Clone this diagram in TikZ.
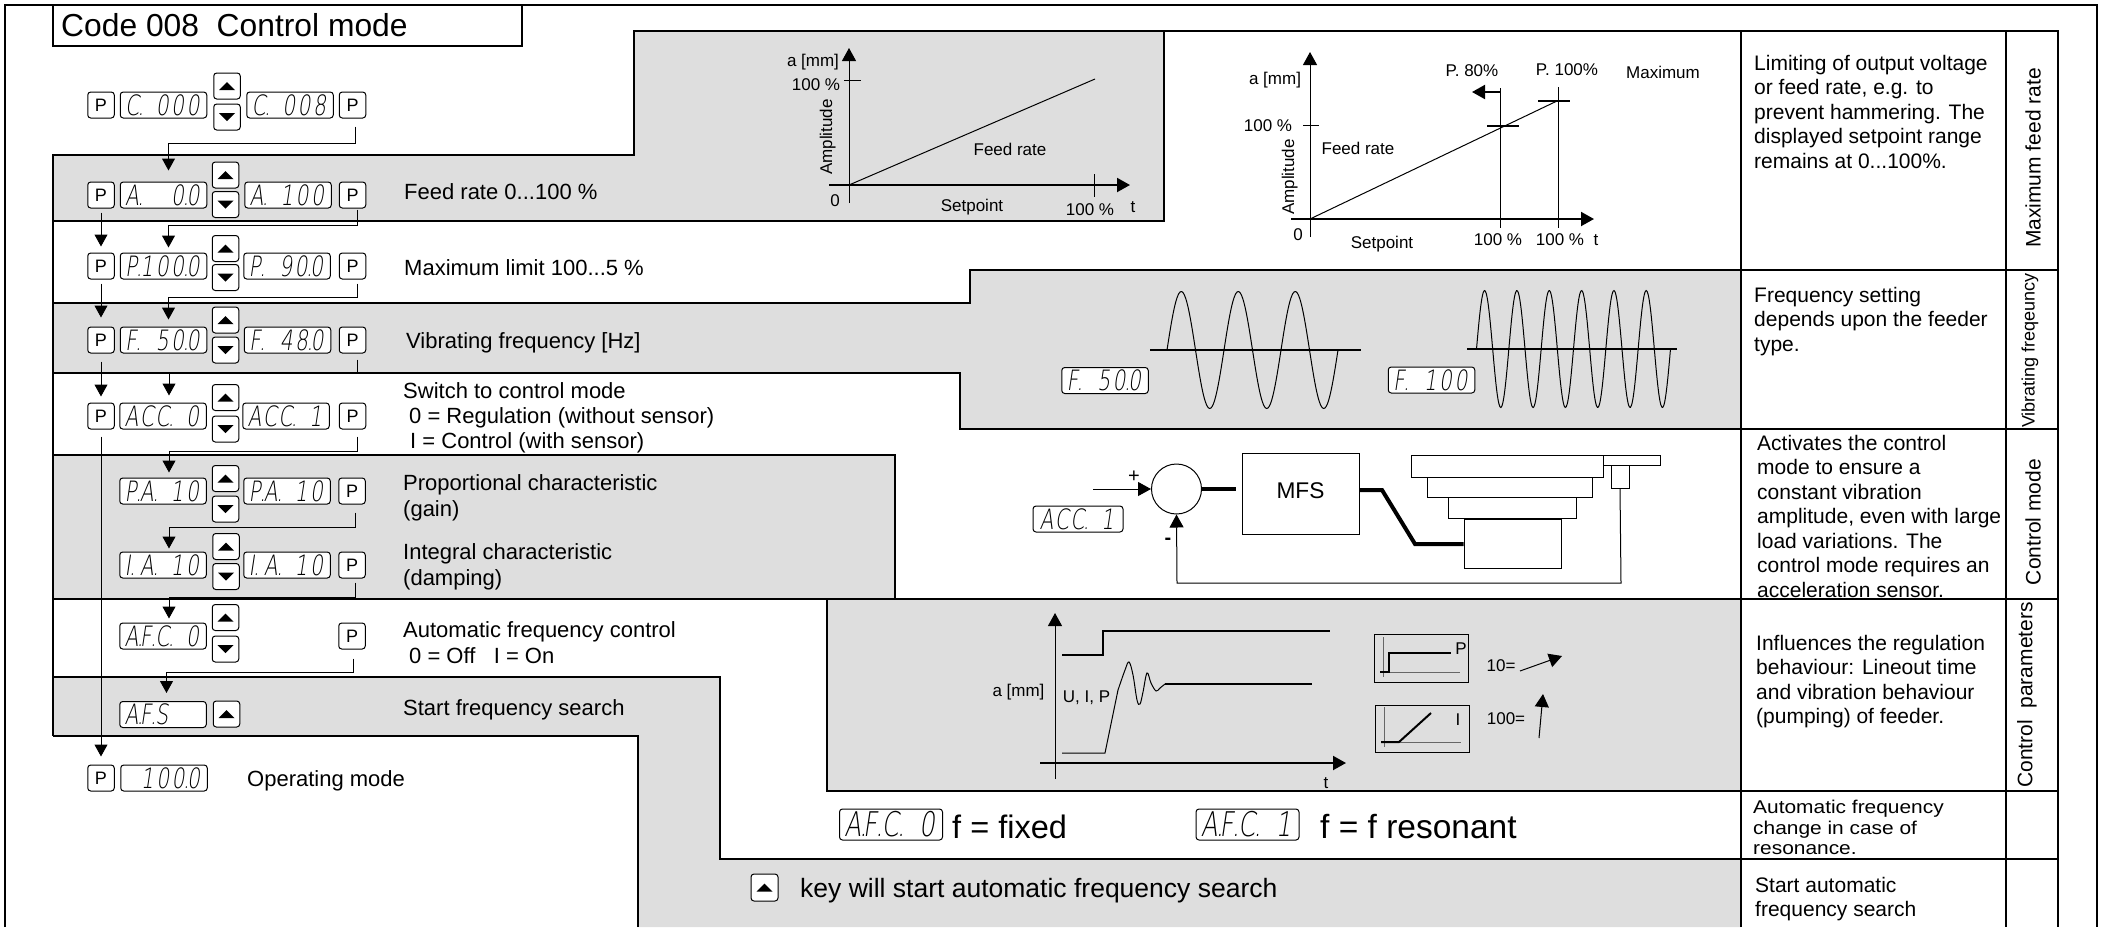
\documentclass[tikz,border=0pt]{standalone}
\usepackage{fontspec}
\setmainfont{Liberation Sans}
\newfontfamily\lcdfont[FakeSlant=0.15,FakeStretch=0.72]{DejaVu Sans ExtraLight}
\newfontfamily\widefont[FakeStretch=1.13]{Liberation Sans}
\usetikzlibrary{arrows.meta}
\newcommand{\fsz}[1]{\fontsize{#1}{#1}\selectfont}
\newcommand{\dt}{\kern-.05em.}
\newcommand{\lcd}[5]{\makebox[.55em][l]{#1}\makebox[.55em][l]{#2}\makebox[.55em][l]{#3}\makebox[.55em][l]{#4}\makebox[.55em][l]{#5}}
\definecolor{bandgray}{gray}{0.87}
\tikzset{
  band/.style={fill=bandgray,draw=black,line width=2pt,line join=miter},
  rule/.style={draw=black,line width=2pt},
  keybox/.style={draw=black,fill=white,rounded corners=3pt,line width=1pt,inner sep=0pt,minimum width=26.5pt,minimum height=26pt},
  pkey/.style={keybox,font=\fsz{18}},
  upkey/.style={keybox,path picture={\fill[black,sharp corners] ([xshift=-8pt,yshift=-4pt]path picture bounding box.center) -- ++(16,0) -- ++(-8,-8) -- cycle;}},
  dwkey/.style={keybox,path picture={\fill[black,sharp corners] ([xshift=-8pt,yshift=4pt]path picture bounding box.center) -- ++(16,0) -- ++(-8,8) -- cycle;}},
  disp/.style={draw=black,fill=white,rounded corners=3pt,line width=1pt,inner sep=0pt,minimum width=86.5pt,minimum height=26pt,font=\lcdfont\fsz{28}},
  bigdisp/.style={disp,minimum width=103pt,minimum height=31pt,font=\lcdfont\fsz{34}},
  conn/.style={-{Triangle[length=12pt,width=13pt]},line width=1pt},
  lbl/.style={anchor=west,inner sep=0pt,font=\fsz{22},text height=15.8pt,text depth=0pt},
  ann/.style={inner sep=0pt,font=\fsz{17},text height=12.2pt,text depth=0pt},
  note/.style={anchor=north west,inner sep=0pt,align=left,font=\fontsize{21}{24.5}\selectfont},
  rot/.style={rotate=90,inner sep=0pt,font=\fsz{21}},
  axis/.style={-{Triangle[length=13pt,width=14pt]},line width=1pt},
  baxis/.style={-{Triangle[length=13pt,width=14pt]},line width=2pt},
  thick line/.style={line width=4pt},
  box/.style={draw=black,fill=white,line width=1pt,inner sep=0pt}
}
\begin{document}
\begin{tikzpicture}[x=1pt,y=-1pt]
\useasboundingbox (0,0) rectangle (2101,927);

\draw[line width=2pt] (5,927) -- (5,5) -- (2097,5) -- (2097,927);

\draw[band] (53,155) -- (634,155) -- (634,31) -- (1164,31) -- (1164,221) -- (53,221) -- cycle;
\draw[band] (53,303) -- (970,303) -- (970,270) -- (1741,270) -- (1741,429) -- (960,429) -- (960,373) -- (53,373) -- cycle;
\draw[band] (53,455) -- (895,455) -- (895,599) -- (53,599) -- cycle;
\draw[band] (827,599) -- (1741,599) -- (1741,791) -- (827,791) -- cycle;
\fill[bandgray] (53,677) -- (720,677) -- (720,859) -- (1741,859) -- (1741,927) -- (638,927) -- (638,736) -- (53,736) -- cycle;
\draw[rule] (53,677) -- (720,677) -- (720,859) -- (1741,859);
\draw[rule] (638,927) -- (638,736) -- (53,736);
\draw[rule] (53,155) -- (53,736);
\draw[rule] (53,221) -- (1164,221);
\draw[rule] (1164,31) -- (2058,31) -- (2058,927);
\draw[rule] (1741,31) -- (1741,927);
\draw[rule] (2006,31) -- (2006,927);
\draw[rule] (1741,270) -- (2058,270);
\draw[rule] (960,429) -- (2058,429);
\draw[rule] (895,599) -- (2058,599);
\draw[rule] (827,791) -- (2058,791);
\draw[rule] (720,859) -- (2058,859);
\draw[rule] (53,373) -- (960,373);
\draw[rule] (53,455) -- (895,455);
\draw[rule] (53,599) -- (895,599);

\node[draw=black,line width=1.5pt,fill=white,minimum width=469pt,minimum height=41pt,inner sep=0pt] (title) at (287.5,25.5) {};
\node[anchor=west,inner sep=0pt,font=\fsz{31.8},text height=22.8pt,text depth=0pt] (titletext) at (61,25) {Code 008~~Control mode};

\node[pkey] (PL0) at (101,105) {P};
\node[disp] (DL0) at (163.5,105) {\lcd{C\dt}{}{0}{0}{0}};
\node[upkey] (UP0) at (227,86) {};
\node[dwkey] (DW0) at (227,117) {};
\node[disp] (DR0) at (290,105) {\lcd{C\dt}{}{0}{0}{8}};
\node[pkey] (PR0) at (352.5,105) {P};

\node[pkey] (PL1) at (101,195) {P};
\node[disp] (DL1) at (163.5,195) {\lcd{A\dt}{}{}{0\dt}{0}};
\node[upkey] (UP1) at (225.5,175) {};
\node[dwkey] (DW1) at (225.5,204.5) {};
\node[disp] (DR1) at (288,195) {\lcd{A\dt}{}{1}{0}{0}};
\node[pkey] (PR1) at (352.5,195) {P};
\node[lbl] (LB1) at (404,192) {Feed rate 0...100 \%};

\node[pkey] (PL2) at (101,266) {P};
\node[disp] (DL2) at (163.5,266) {\lcd{P\dt}{1}{0}{0\dt}{0}};
\node[upkey] (UP2) at (225.5,248.5) {};
\node[dwkey] (DW2) at (225.5,277.5) {};
\node[disp] (DR2) at (287,266) {\lcd{P\dt}{}{9}{0\dt}{0}};
\node[pkey] (PR2) at (352.5,266) {P};
\node[lbl] (LB2) at (404,268) {Maximum limit 100...5 \%};

\node[pkey] (PL3) at (101,340) {P};
\node[disp] (DL3) at (163.5,340) {\lcd{F\dt}{}{5}{0\dt}{0}};
\node[upkey] (UP3) at (225.5,320) {};
\node[dwkey] (DW3) at (225.5,350) {};
\node[disp] (DR3) at (287.5,340) {\lcd{F\dt}{}{4}{8\dt}{0}};
\node[pkey] (PR3) at (352.5,340) {P};
\node[lbl] (LB3) at (406,341) {Vibrating frequency [Hz]};

\node[pkey] (PL4) at (101,416) {P};
\node[disp] (DL4) at (163,416) {\lcd{A}{C}{C\dt}{}{0}};
\node[upkey] (UP4) at (225.5,397.5) {};
\node[dwkey] (DW4) at (225.5,429) {};
\node[disp] (DR4) at (286,416) {\lcd{A}{C}{C\dt}{}{1}};
\node[pkey] (PR4) at (352.5,416) {P};
\node[lbl] (LB4a) at (403,391) {Switch to control mode};
\node[lbl] (LB4b) at (409,416) {0 = Regulation (without sensor)};
\node[lbl] (LB4c) at (410,441) {I = Control (with sensor)};

\node[disp] (DL5) at (163,491) {\lcd{P\dt}{A\dt}{}{1}{0}};
\node[upkey] (UP5) at (225.5,478.5) {};
\node[dwkey] (DW5) at (225.5,509) {};
\node[disp] (DR5) at (287,491) {\lcd{P\dt}{A\dt}{}{1}{0}};
\node[pkey] (PR5) at (352,491) {P};
\node[lbl] (LB5a) at (403,483) {Proportional characteristic};
\node[lbl] (LB5b) at (403,509) {(gain)};

\node[disp] (DL6) at (163,565) {\lcd{I\dt}{A\dt}{}{1}{0}};
\node[upkey] (UP6) at (226,546.5) {};
\node[dwkey] (DW6) at (226,576.5) {};
\node[disp] (DR6) at (287,565) {\lcd{I\dt}{A\dt}{}{1}{0}};
\node[pkey] (PR6) at (352,565) {P};
\node[lbl] (LB6a) at (403,552) {Integral characteristic};
\node[lbl] (LB6b) at (403,578) {(damping)};

\node[disp] (DL7) at (163,636) {\lcd{A\dt}{F\dt}{C\dt}{}{0}};
\node[upkey] (UP7) at (225.5,617.5) {};
\node[dwkey] (DW7) at (225.5,649) {};
\node[pkey] (PR7) at (352,636) {P};
\node[lbl] (LB7a) at (403,630) {Automatic frequency control};
\node[lbl] (LB7b) at (409,656) {0 = Off~~~I = On};

\node[disp] (DL8) at (163,714.5) {\lcd{A\dt}{F\dt}{S}{}{}};
\node[upkey] (UP8) at (226.5,714) {};
\node[lbl] (LB8) at (403,708) {Start frequency search};

\node[pkey] (PL9) at (101,778) {P};
\node[disp] (DL9) at (164,778) {\lcd{}{1}{0}{0\dt}{0}};
\node[lbl] (LB9) at (247,779) {Operating mode};

\draw[conn,shorten <=8pt,shorten >=11pt] ([xshift=3pt]PR0.south) -- ++(0,25) -| ([xshift=5pt]DL1.north);
\draw[conn,shorten <=1pt,shorten >=5pt] ([xshift=4.5pt]PR1.south) -- ++(0,17) -| ([xshift=5pt]DL2.north);
\draw[conn,shorten <=4pt,shorten >=7pt] ([xshift=4.5pt]PR2.south) -- ++(0,18) -| ([xshift=5pt]DL3.north);
\draw[conn,shorten <=6pt,shorten >=7pt] ([xshift=4.5pt]PR3.south) -- ++(0,20) -| ([xshift=6pt]DL4.north);
\draw[conn,shorten <=7pt,shorten >=5pt] ([xshift=4.5pt]PR4.south) -- ++(0,22) -| ([xshift=6pt]DL5.north);
\draw[conn,shorten <=8pt,shorten >=3pt] ([xshift=3pt]PR5.south) -- ++(0,23) -| ([xshift=6pt]DL6.north);
\draw[conn,shorten <=4pt,shorten >=4pt] ([xshift=3pt]PR6.south) -- ++(0,19) -| ([xshift=6pt]DL7.north);
\draw[conn,shorten <=9pt,shorten >=8pt] ([xshift=1pt]PR7.south) -- ++(0,23) -| ([xshift=3.5pt]DL8.north);
\draw[conn,shorten <=4pt,shorten >=6pt] (PL1) -- (PL2);
\draw[conn,shorten <=4pt,shorten >=9pt] (PL2) -- (PL3);
\draw[conn,shorten <=8pt,shorten >=6pt] (PL3) -- (PL4);
\draw[conn,shorten <=7pt,shorten >=8pt] (PL4) -- (PL9);

\draw[axis] (849,203) -- (849,48);
\draw[baxis] (829,185) -- (1130,185);
\draw[line width=1pt] (849,185) -- (1095,79);
\draw[line width=1pt] (844,80) -- (861,80);
\draw[line width=1pt] (1094,174) -- (1094,197);
\node[ann] (a1) at (813,60) {a [mm]};
\node[ann] (h1) at (816,84) {100 \%};
\node[ann] (z1) at (835,200) {0};
\node[ann,rotate=90] (am1) at (826,137) {Amplitude};
\node[ann] (f1) at (1010,149) {Feed rate};
\node[ann] (s1) at (972,205) {Setpoint};
\node[ann] (e1) at (1090,209) {100 \%};
\node[ann] (t1) at (1133,206) {t};

\draw[axis] (1310,237) -- (1310,52);
\draw[baxis] (1291,219) -- (1594,219);
\draw[line width=1pt] (1310,219) -- (1557,101);
\draw[line width=1pt] (1303,125) -- (1319,125);
\draw[line width=1pt] (1500,88) -- (1500,228);
\draw[line width=1pt] (1558,87) -- (1558,228);
\draw[line width=1.5pt] (1487,126) -- (1519,126);
\draw[line width=1.5pt] (1538,101) -- (1570,101);
\draw[baxis] (1500,92) -- (1472,92);
\node[ann] (p80) at (1472,70) {P. 80\%};
\node[ann] (p100) at (1567,69) {P. 100\%};
\node[ann] (mx) at (1663,72) {Maximum};
\node[ann] (a2) at (1275,78) {a [mm]};
\node[ann] (h2) at (1268,125) {100 \%};
\node[ann,rotate=90] (am2) at (1288,177) {Amplitude};
\node[ann] (f2) at (1358,148) {Feed rate};
\node[ann] (z2) at (1298,234) {0};
\node[ann] (s2) at (1382,242) {Setpoint};
\node[ann] (e2a) at (1498,239) {100 \%};
\node[ann] (e2b) at (1560,239) {100 \%};
\node[ann] (t2) at (1596,239) {t};

\draw[line width=2pt] (1150,350) -- (1361,350);
\draw[line width=1pt] plot[domain=0:171,samples=130,smooth] ({1167+\x},{350-58.5*sin(\x/57*360)});
\draw[line width=2pt] (1467,349) -- (1677,349);
\draw[line width=1pt] plot[domain=0:194,samples=200,smooth] ({1476.5+\x},{349-58.5*sin(\x/32.33*360)});
\node[disp] (DF1) at (1105,380.5) {\lcd{F\dt}{}{5}{0\dt}{0}};
\node[disp] (DF2) at (1431.5,380) {\lcd{F\dt}{}{1}{0}{0}};

\node[disp,minimum width=90pt] (DA) at (1078,519) {\lcd{A}{C}{C\dt}{}{1}};
\node[draw=black,fill=white,line width=1pt,circle,minimum width=50pt,inner sep=0pt] (SUM) at (1176.5,489) {};
\node[box,minimum width=117pt,minimum height=81pt,font=\fsz{22.7},text height=16pt,text depth=6pt] (MFS) at (1300.5,493.5) {MFS};
\node[box,minimum width=57pt,minimum height=10pt] (PE) at (1631.5,460) {};
\node[box,minimum width=192pt,minimum height=22pt] (PA) at (1507,466) {};
\node[box,minimum width=165pt,minimum height=20pt] (PB) at (1509.5,487) {};
\node[box,minimum width=128pt,minimum height=21pt] (PC) at (1512,507.5) {};
\node[box,minimum width=97pt,minimum height=49pt] (PD) at (1512.5,543.5) {};
\node[box,minimum width=18pt,minimum height=23pt] (SE) at (1620,476.5) {};
\coordinate (IN) at (1093,489);
\draw[axis] (IN) -- (SUM.west);
\node[inner sep=0pt,font=\fsz{20}] (plus) at (1134,477) {+};
\node[inner sep=0pt,font=\bfseries\fsz{20}] (minus) at (1168,541) {-};
\draw[thick line,shorten >=6pt] (SUM.east) -- (SUM.east -| MFS.west);
\draw[thick line] (MFS.east |- 0,490) -- (1382,490) -- (1415,544) -- (PD.west |- 0,544);
\draw[axis] (SE.south) -- (1621,583) -- (1177,583) -- (SUM.south);

\draw[axis] (1055,779) -- (1055,613);
\draw[baxis] (1040,763) -- (1346,763);
\draw[line width=1.5pt] (1062,655) -- (1103,655) -- (1103,631) -- (1330,631);
\draw[line width=1pt] (1062,753) -- (1105,753) -- (1118,690);
\draw[line width=1pt] plot[smooth,tension=.6] coordinates {(1118,690) (1125,670) (1129,662) (1133,675) (1137,700) (1140,704) (1143,692) (1147,673) (1151,683) (1156,691) (1160,688) (1165,684)};
\draw[line width=1.5pt] (1165,684) -- (1312,684);
\node[ann] (a3) at (1018.5,690) {a [mm]};
\node[ann] (u3) at (1086.5,696) {U, I, P};
\node[ann] (t3) at (1326,782) {t};

\node[draw=black,line width=1pt,minimum width=94pt,minimum height=48pt,inner sep=0pt] (BP) at (1421,658) {};
\draw[line width=.7pt,draw=black!60] (1383,637) -- (1383,677);
\draw[line width=.7pt,draw=black!60] (1380,672) -- (1460,672);
\draw[line width=2pt] (1380,672) -- (1389,672) -- (1389,653) -- (1451,653);
\node[ann] (lp) at (1461,648) {P};
\node[draw=black,line width=1pt,minimum width=94pt,minimum height=47pt,inner sep=0pt] (BI) at (1422,728.5) {};
\draw[line width=.7pt,draw=black!60] (1384,707) -- (1384,747);
\draw[line width=.7pt,draw=black!60] (1381,742) -- (1461,742);
\draw[line width=2pt] (1381,742) -- (1399,742) -- (1431,713);
\node[ann] (li) at (1458,719) {I};
\node[ann] (ten) at (1501,665) {10=};
\draw[axis] (1520,671) -- (1562,656);
\node[ann] (hun) at (1506,718) {100=};
\draw[axis] (1539,738) -- (1543,694);

\node[bigdisp] (DX0) at (891,824.5) {\lcd{A\dt}{F\dt}{C\dt}{}{0}};
\node[anchor=west,inner sep=0pt,font=\fsz{32.5},text height=23pt,text depth=0pt] (FX) at (952,827) {f = fixed};
\node[bigdisp] (DX1) at (1247.5,824.5) {\lcd{A\dt}{F\dt}{C\dt}{}{1}};
\node[anchor=west,inner sep=0pt,font=\fsz{33.5},text height=23pt,text depth=0pt] (FR) at (1320,827) {f = f resonant};
\node[upkey,minimum width=27pt,minimum height=27pt] (UPX) at (764.5,887.5) {};
\node[anchor=west,inner sep=0pt,font=\fsz{26.5},text height=19pt,text depth=0pt] (KY) at (800,888) {key will start automatic frequency search};

\node[note] (N1) at (1754,55) {Limiting of output voltage\\or feed rate, e.g. to\\prevent hammering. The\\displayed setpoint range\\remains at 0...100\%.};
\node[note] (N2) at (1754,287) {Frequency setting\\depends upon the feeder\\type.};
\node[note] (N3) at (1757,435) {Activates the control\\mode to ensure a\\constant vibration\\amplitude, even with large\\load variations. The\\control mode requires an\\acceleration sensor.};
\node[note] (N4) at (1756,635) {Influences the regulation\\behaviour: Lineout time\\and vibration behaviour\\(pumping) of feeder.};
\node[note,font=\widefont\fontsize{18.5}{20.5}\selectfont] (N5) at (1753,800) {Automatic frequency\\change in case of\\resonance.};
\node[note] (N6) at (1755,877) {Start automatic\\frequency search};

\node[rot] (V1) at (2033,158) {Maximum feed rate};
\node[rot,font=\fsz{18}] (V2) at (2030,350.5) {Vibrating freqeuncy};
\node[rot] (V3) at (2033,522) {Control mode};
\node[rot] (V4) at (2027,695) {Control~~parameters};
\end{tikzpicture}
\end{document}
